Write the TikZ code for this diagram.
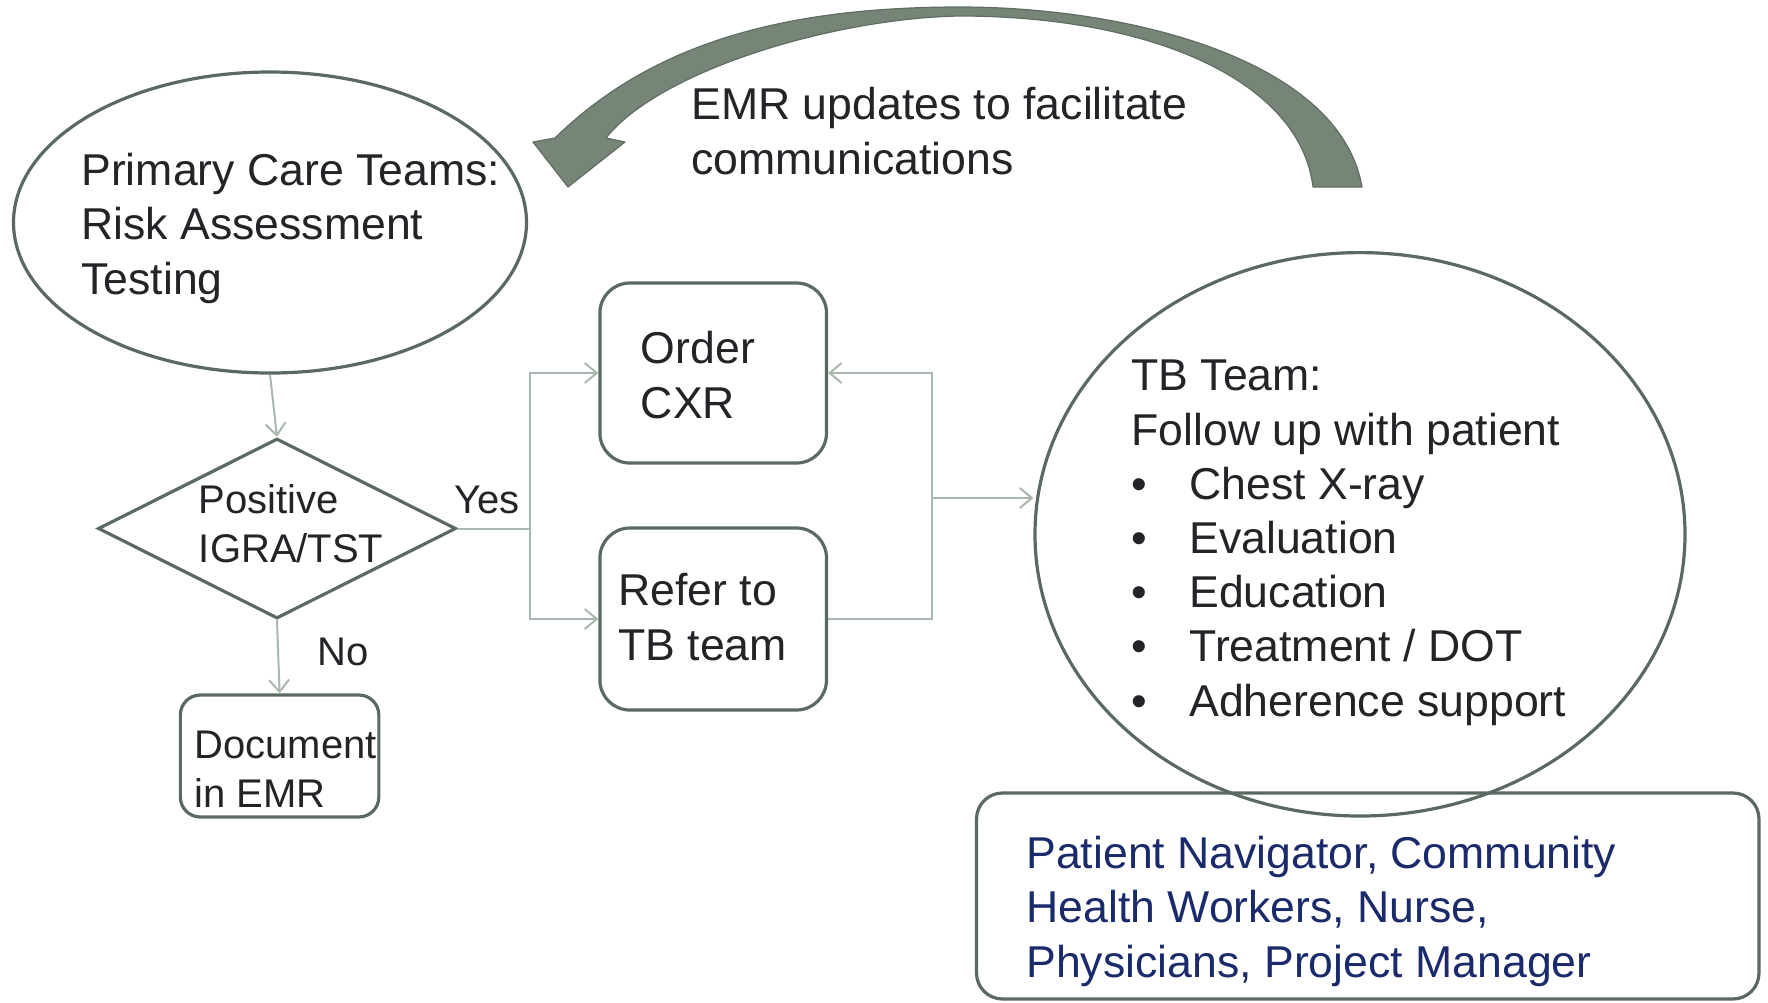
\documentclass[tikz,border=0pt]{standalone}
\usepackage{fontspec}
\setmainfont{Liberation Sans}
\usetikzlibrary{shapes.geometric,arrows.meta}

\definecolor{edgedark}{HTML}{5B6A60}
\definecolor{edgelight}{HTML}{A9B7AD}
\definecolor{bandfill}{HTML}{778579}
\definecolor{bandedge}{HTML}{5F6D62}
\definecolor{txt}{HTML}{232328}
\definecolor{navy}{HTML}{1B2A6B}

\begin{document}
\begin{tikzpicture}[x=0.5pt,y=-0.5pt,
  outline/.style={draw=edgedark, line width=1.6pt, inner sep=0pt},
  link/.style={draw=edgelight, line width=1pt},
  flow/.style={link, -{Straight Barb[length=6pt,width=10pt]}},
  % multi-line labels are placed by the baseline of their last line
  lbl/.style={inner sep=0pt, anchor=base west, align=left, text=txt},
  big/.style={font=\fontsize{22.3}{27.1}\selectfont},
  small/.style={font=\fontsize{20}{24.5}\selectfont},
]
\useasboundingbox (0,0) rectangle (1768,1002);

% curved feedback arrow from the TB team back to primary care
\path[fill=bandfill, draw=bandedge, line width=0.6pt, line join=round]
  (555,138) .. controls (650,45) and (780,7) .. (960,7)
  .. controls (1130,7) and (1340,60) .. (1362,187)
  -- (1313,187)
  .. controls (1300,80) and (1150,16) .. (960,16)
  .. controls (835,18) and (660,70) .. (606,138)
  -- (625,142) -- (568,187) -- (533,142) -- cycle;

% shapes
\node[outline, ellipse, minimum width=256.5pt, minimum height=150.5pt] (pc) at (270,222.5) {};
\node[outline, diamond, minimum width=179pt, minimum height=90pt] (dec) at (277,528.5) {};
\node[outline, rounded corners=10pt, minimum width=99.25pt, minimum height=61pt] (doc) at (279.6,756) {};
\node[outline, rounded corners=15pt, minimum width=113.3pt, minimum height=90pt] (order) at (713.2,373) {};
\node[outline, rounded corners=15pt, minimum width=113.3pt, minimum height=91pt] (refer) at (713.2,619) {};
\node[outline, ellipse, minimum width=325pt, minimum height=281.7pt] (tb) at (1360,534.3) {};
\node[outline, rounded corners=13pt, minimum width=391.25pt, minimum height=103pt] (staff) at (1367.75,896) {};

% texts
\node[lbl, big] (pctext) at (81,294) {Primary Care Teams:\\Risk Assessment\\Testing};
\node[lbl, small] (dectext) at (198.5,562) {Positive\\IGRA/TST};
\node[lbl, small] (yes) at (454,513) {Yes};
\node[lbl, small] (no) at (317,665) {No};
\node[lbl, small] (doctext) at (194,807) {Document\\in EMR};
\node[lbl, big] (ordertext) at (640.5,418) {Order\\CXR};
\node[lbl, big] (refertext) at (618,660) {Refer to\\TB team};
\node[lbl, big] (emr) at (691,174) {EMR updates to facilitate\\communications};
\node[lbl, big] (tbtext) at (1131,716) {TB Team:\\Follow up with patient\\
  \makebox[29pt][l]{\textbullet}Chest X-ray\\
  \makebox[29pt][l]{\textbullet}Evaluation\\
  \makebox[29pt][l]{\textbullet}Education\\
  \makebox[29pt][l]{\textbullet}Treatment / DOT\\
  \makebox[29pt][l]{\textbullet}Adherence support};
\node[lbl, big, text=navy] (stafftext) at (1026,977) {Patient Navigator, Community\\Health Workers, Nurse,\\Physicians, Project Manager};

% connectors
\coordinate (jl) at (530,528.5);
\coordinate (jr) at (932,498);
\draw[flow] (pc.south) -- (dec.north);
\draw[flow] (dec.south) -- (doc.north);
\draw[link] (dec.east) -- (jl);
\draw[flow] (jl) |- (order.west);
\draw[flow] (jl) |- (refer.west);
\draw[flow] (refer.east) -| (jr) |- (order.east);
\draw[flow] (jr) -- (jr -| tb.west);
\end{tikzpicture}
\end{document}
